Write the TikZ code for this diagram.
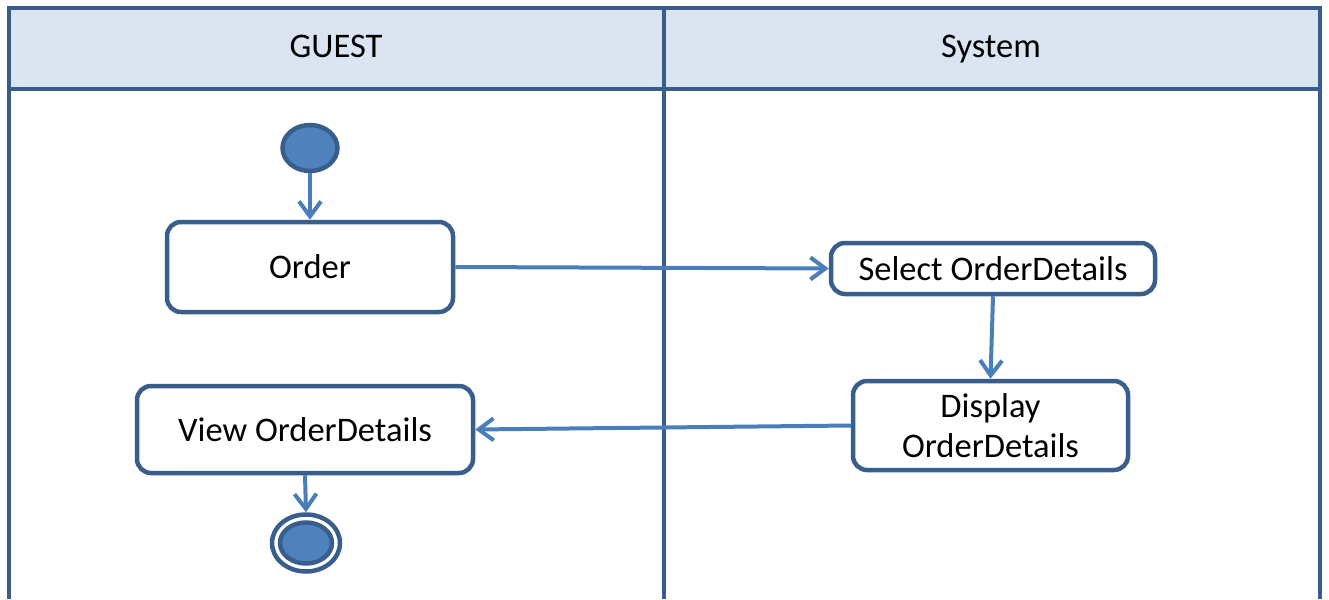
\documentclass[tikz,border=0pt]{standalone}
\usepackage{fontspec}
\setmainfont{Carlito}
\usetikzlibrary{arrows.meta,shapes.geometric}
\definecolor{frameblue}{HTML}{3A5E8C}
\definecolor{headfill}{HTML}{DBE5F1}
\definecolor{arrowblue}{HTML}{4A7EBB}
\definecolor{nodefill}{HTML}{4F81BD}
\tikzset{
  lane/.style={draw=frameblue, line width=4.5pt},
  actbox/.style={draw=frameblue, line width=4.5pt, fill=white, rounded corners=14pt,
    inner sep=0pt, align=center, font=\fontsize{34.5}{40}\selectfont},
  headtext/.style={font=\fontsize{34.5}{40}\selectfont, anchor=base, inner sep=0pt},
  flow/.style={draw=arrowblue, line width=4pt, -{Straight Barb[length=15pt,width=22pt,line width=4pt]}},
  startnode/.style={ellipse, draw=frameblue, fill=nodefill, line width=4.5pt,
    minimum width=55pt, minimum height=46pt, inner sep=0pt},
}
\begin{document}
\begin{tikzpicture}[x=1pt,y=-1pt]
\useasboundingbox (0,0) rectangle (1329,599);
% swimlanes
\fill[headfill] (9,8) rectangle (1320,89);
\draw[lane] (9,599) -- (9,8) -- (1320,8) -- (1320,599);
\draw[lane] (9,89) -- (1320,89);
\draw[lane] (664,8) -- (664,599);
\node[headtext] (hguest) at (336,58) {GUEST};
\node[headtext] (hsys) at (991,58) {System};
% nodes
\node[startnode] (start) at (310,148) {};
\node[actbox, minimum width=286pt, minimum height=90pt] (order) at (310,267) {Order};
\node[actbox, minimum width=324pt, minimum height=51pt] (select) at (993,268.5) {Select OrderDetails};
\node[actbox, minimum width=275pt, minimum height=89pt] (display) at (990.5,425.5) {Display\\OrderDetails};
\node[actbox, minimum width=336pt, minimum height=87pt] (view) at (305,429.5) {View OrderDetails};
\node[ellipse, draw=frameblue, line width=4.5pt, minimum width=68pt, minimum height=57pt, inner sep=0pt] (end) at (306,543) {};
\node[ellipse, draw=frameblue, fill=nodefill, line width=4.5pt, minimum width=52pt, minimum height=41pt, inner sep=0pt] (endin) at (306,543) {};
% flows
\draw[flow] (start) -- (order.north);
\draw[flow] (order.east) -- (select.west);
\draw[flow] (select.south) -- (display.north);
\draw[flow] (display.west) -- (view.east);
\draw[flow] (view.south) -- (end.north);
\end{tikzpicture}
\end{document}
